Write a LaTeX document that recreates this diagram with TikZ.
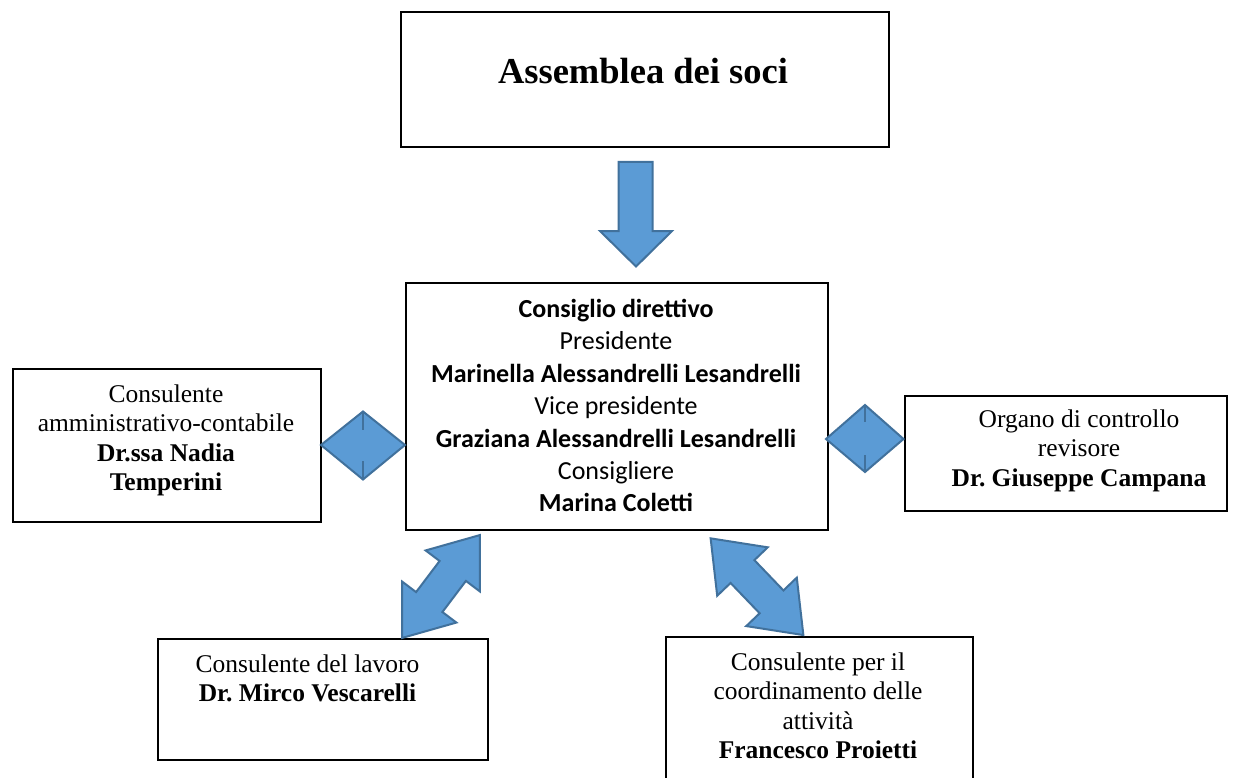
\documentclass[tikz,border=0pt]{standalone}
\usepackage{fontspec}
\setmainfont{Liberation Serif}
\newfontfamily\calfont{Carlito}
\definecolor{arrowfill}{RGB}{91,155,213}
\definecolor{arrowline}{RGB}{65,113,156}
\newcommand{\stack}[1]{\begin{tabular}[t]{@{}c@{}}#1\end{tabular}}
\setlength{\tabcolsep}{0pt}
\frenchspacing
\begin{document}
\begin{tikzpicture}[x=1pt,y=-1pt,
  box/.style={draw=black, line width=2pt, fill=white, inner sep=0pt, anchor=north west},
  blockarrow/.style={fill=arrowfill, draw=arrowline, line width=2pt, line join=miter},
  tick/.style={draw=arrowline, line width=2pt},
  txt/.style={anchor=base, inner sep=0pt},
  serif/.style={font=\fontsize{25.5}{29.5}\selectfont},
  calib/.style={font=\calfont\fontsize{26}{32.4}\selectfont}]
\useasboundingbox[fill=white] (0,0) rectangle (1244,778);
\clip (0,0) rectangle (1244,778);
% boxes
\node[box, minimum width=488pt, minimum height=135pt] (ass) at (399.5,11.5) {};
\node[box, minimum width=422pt, minimum height=247pt] (cd) at (405,282) {};
\node[box, minimum width=307.5pt, minimum height=152.5pt] (lc) at (12,368) {};
\node[box, minimum width=322pt, minimum height=115pt] (rc) at (904,395) {};
\node[box, minimum width=330pt, minimum height=121pt] (bl) at (157,638) {};
\node[box, minimum width=307pt, minimum height=160pt] (br) at (665,636) {};
% texts
\node[txt, font=\bfseries\fontsize{36.5}{40}\selectfont] (tass) at (643,84) {Assemblea dei soci};
\node[txt, calib] (tcd) at (616,317.5) {\stack{\textbf{Consiglio direttivo}\\ Presidente\\ \textbf{Marinella Alessandrelli Lesandrelli}\\ Vice presidente\\ \textbf{Graziana Alessandrelli Lesandrelli}\\ Consigliere\\ \textbf{Marina Coletti}}};
\node[txt, serif] (tlc) at (166,402) {\stack{Consulente\\ amministrativo-contabile\\ \textbf{Dr.ssa Nadia}\\ \textbf{Temperini}}};
\node[txt, serif] (trc) at (1079,427) {\stack{Organo di controllo\\ revisore\\ \textbf{Dr. Giuseppe Campana}}};
\node[txt, serif] (tbl) at (307.5,672) {\stack{Consulente del lavoro\\ \textbf{Dr. Mirco Vescarelli}}};
\node[txt, serif] (tbr) at (818,670) {\stack{Consulente per il\\ coordinamento delle\\ attività\\ \textbf{Francesco Proietti}}};
% down arrow
\draw[blockarrow] (618.5,162) -- (652.5,162) -- (652.5,231) -- (672,231) -- (636,266.5) -- (600,231) -- (618.5,231) -- cycle;
% diamonds
\draw[blockarrow] (321,445) -- (363,411.5) -- (405,445) -- (363,479.5) -- cycle;
\draw[tick] (363,411.5) -- (363,430) (363,461) -- (363,479.5);
\draw[blockarrow] (826,439) -- (865,405) -- (903.5,439) -- (865,472) -- cycle;
\draw[tick] (865,405) -- (865,422) (865,455) -- (865,472);
% double arrows
\begin{scope}[shift={(441,586.5)}, rotate=52.9]
\draw[blockarrow] (64.5,0) -- (19.5,34) -- (19.5,16.5) -- (-19.5,16.5) -- (-19.5,34) -- (-64.5,0) -- (-19.5,-34) -- (-19.5,-16.5) -- (19.5,-16.5) -- (19.5,-34) -- cycle;
\end{scope}
\begin{scope}[shift={(757,586.7)}, rotate=133.8]
\draw[blockarrow] (67,0) -- (21,35) -- (21,16.5) -- (-21,16.5) -- (-21,35) -- (-67,0) -- (-21,-35) -- (-21,-16.5) -- (21,-16.5) -- (21,-35) -- cycle;
\end{scope}
\end{tikzpicture}
\end{document}
